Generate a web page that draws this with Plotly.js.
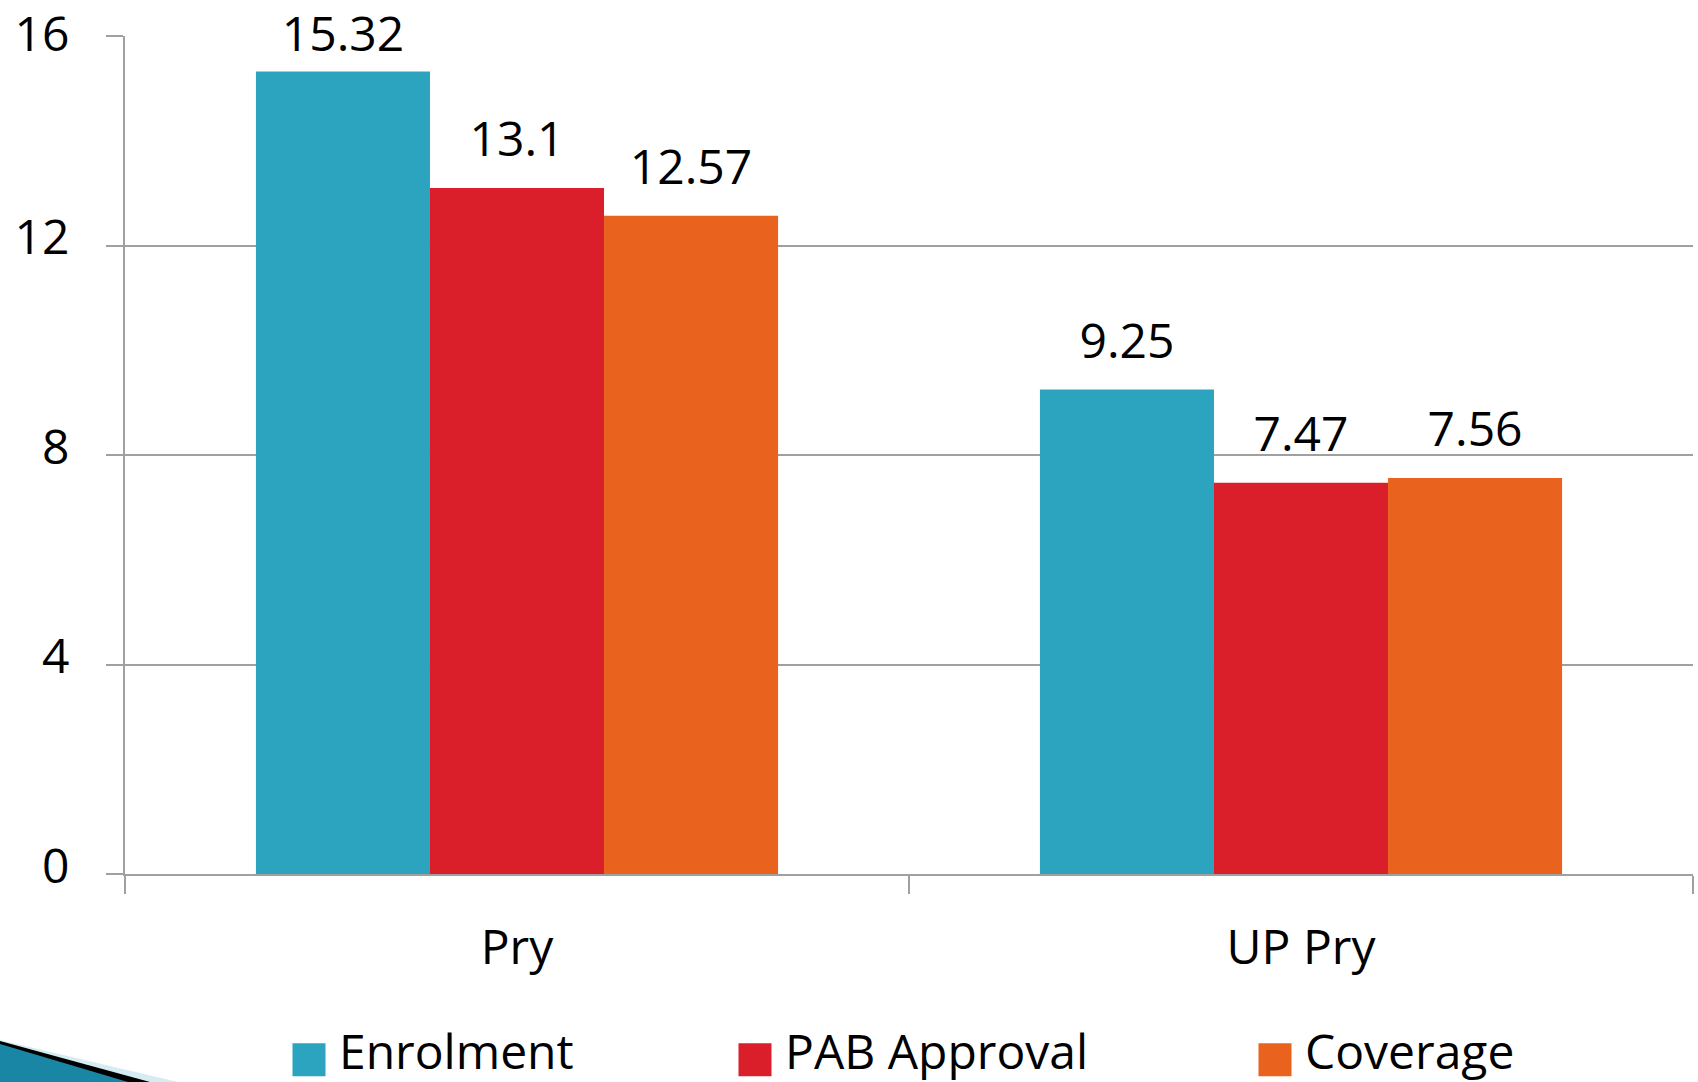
<!DOCTYPE html>
<html>
<head>
<meta charset="utf-8">
<script src="https://cdn.plot.ly/plotly-3.0.1.min.js"></script>
<style>
  html, body { margin: 0; padding: 0; background: #ffffff; }
  #chart { width: 1698px; height: 1082px; }
</style>
</head>
<body>
<div id="chart"></div>
<script>
// ---- data ----
const categories = ["Pry", "UP Pry"];
const seriesNames = ["Enrolment", "PAB Approval", "Coverage"];
const enrolment = [15.32, 9.25];
const pabApproval = [13.1, 7.47];
const coverage = [12.57, 7.56];
const yTickVals = [0, 4, 8, 12, 16];

// ---- styling ----
const colors = ["#2CA3BF", "#DA1F2B", "#E9631F"];
const FONT = "Open Sans, Liberation Sans, DejaVu Sans, sans-serif";
const FS = 48;
const W = 1698, H = 1082;
const M = { l: 125, r: 5, t: 36, b: 208 };
const legendTextStarts = [340, 786, 1306]; // px where each legend label begins
const LABEL_LIFT = 15;    // extra gap between bar top and its value label
const LABEL_MIN_TOP = 17; // value labels keep their cap-top below this (px)
const YLABEL_RAISE = 8;   // y tick labels sit a little above their gridlines

const seriesValues = [enrolment, pabApproval, coverage];
const legendIds = ["legend", "legend2", "legend3"];

const traces = seriesValues.map((vals, i) => ({
  type: "bar",
  name: seriesNames[i],
  x: categories,
  y: vals,
  marker: { color: colors[i], line: { width: 0 } },
  text: vals.map(v => String(v)),
  textposition: "outside",
  textfont: { family: FONT, size: FS, color: "#000000" },
  constraintext: "none",
  cliponaxis: false,
  hoverinfo: "skip",
  legend: legendIds[i]
}));

// px -> paper helpers for decorative corner swoosh
const pw = W - M.l - M.r, ph = H - M.t - M.b;
const PX = px => (px - M.l) / pw;
const PY = py => (H - M.b - py) / ph;
function pathOf(pts) {
  return "M" + pts.map(p => PX(p[0]).toFixed(5) + "," + PY(p[1]).toFixed(5)).join(" L") + " Z";
}

const legendBase = {
  orientation: "h",
  xref: "container", yref: "container",
  xanchor: "left", yanchor: "middle",
  y: 1 - 1051 / H,
  font: { family: FONT, size: FS, color: "#000000" },
  bgcolor: "rgba(0,0,0,0)",
  borderwidth: 0,
  itemclick: false, itemdoubleclick: false
};
const layout = {
  width: W, height: H,
  margin: M,
  paper_bgcolor: "#ffffff",
  plot_bgcolor: "#ffffff",
  barmode: "group",
  bargap: 0.334,
  bargroupgap: 0,
  showlegend: true,
  font: { family: FONT, size: FS, color: "#000000" },
  xaxis: {
    type: "category",
    tickson: "boundaries",
    ticks: "outside",
    ticklen: 18,
    tickwidth: 2,
    tickcolor: "#a0a0a0",
    showline: true,
    linecolor: "#a0a0a0",
    linewidth: 2,
    showgrid: false,
    zeroline: false,
    tickfont: { family: FONT, size: FS, color: "#000000" },
    ticklabelstandoff: 30,
    fixedrange: true
  },
  yaxis: {
    range: [0, 16],
    tickvals: yTickVals,
    ticktext: yTickVals.map(String),
    ticks: "outside",
    ticklen: 17,
    tickwidth: 2,
    tickcolor: "#a0a0a0",
    showline: true,
    linecolor: "#a0a0a0",
    linewidth: 2,
    showgrid: true,
    gridcolor: "#a0a0a0",
    gridwidth: 2,
    zeroline: false,
    tickfont: { family: FONT, size: FS, color: "#000000" },
    ticklabelstandoff: 27,
    fixedrange: true
  },
  legend: Object.assign({}, legendBase, { x: (legendTextStarts[0] - 41) / W }),
  legend2: Object.assign({}, legendBase, { x: (legendTextStarts[1] - 41) / W }),
  legend3: Object.assign({}, legendBase, { x: (legendTextStarts[2] - 41) / W }),
  shapes: [
    { type: "path", xref: "paper", yref: "paper", layer: "above", line: { width: 0 },
      fillcolor: "#d6ecf3", path: pathOf([[0, 1040], [178, 1082], [0, 1082]]) },
    { type: "path", xref: "paper", yref: "paper", layer: "above", line: { width: 0 },
      fillcolor: "#000000", path: pathOf([[0, 1041], [150, 1082], [0, 1082]]) },
    { type: "path", xref: "paper", yref: "paper", layer: "above", line: { width: 0 },
      fillcolor: "#1a86a6", path: pathOf([[0, 1044], [128, 1082], [0, 1082]]) }
  ]
};

function styleLegendSwatches(gd) {
  gd.querySelectorAll(".legendpoints").forEach(lp => {
    // climb to the nearest ancestor that holds this item's label text
    let item = lp.parentNode;
    while (item && item !== gd && !item.querySelector("text")) item = item.parentNode;
    if (!item || item === gd) return;
    const txt = item.querySelector("text");
    if (!txt) return;
    let anc = item;
    while (anc && anc !== gd) {
      if (anc.removeAttribute) anc.removeAttribute("clip-path");
      anc = anc.parentNode;
    }
    lp.querySelectorAll("path").forEach(path => {
      if (path.hasAttribute("data-sized")) return;
      path.setAttribute("data-sized", "1");
      path.removeAttribute("transform");
      const tb = txt.getBoundingClientRect();
      const pb = path.getBoundingClientRect();
      const lb = path.getBBox();
      const cxl = lb.x + lb.width / 2, cyl = lb.y + lb.height / 2;
      const pcx = pb.left + pb.width / 2, pcy = pb.top + pb.height / 2;
      const baseline = tb.top + 1.069 * FS;
      const targetCx = tb.left - 30;
      const targetCy = baseline - 10;
      const s = 2.75;
      path.setAttribute("transform",
        `translate(${cxl + targetCx - pcx},${cyl + targetCy - pcy}) scale(${s}) translate(${-cxl},${-cyl})`);
    });
  });
}

function shiftOnce(el, dy) {
  if (el.hasAttribute("data-base-transform")) return;
  const tr = el.getAttribute("transform") || "";
  el.setAttribute("data-base-transform", tr);
  el.setAttribute("transform", `translate(0,${dy}) ` + tr);
}

function finish(gd) {
  styleLegendSwatches(gd);
  gd.querySelectorAll("text.bartext").forEach(t => {
    if (t.hasAttribute("data-base-transform")) return;
    const r = t.getBoundingClientRect();
    const capTop = r.top + (1.069 - 0.714) * FS;
    const lift = Math.max(0, Math.min(LABEL_LIFT, capTop - LABEL_MIN_TOP));
    shiftOnce(t, -lift);
  });
  gd.querySelectorAll(".ytick text").forEach(t => {
    if (t.hasAttribute("data-base-transform")) return;
    const r = t.getBoundingClientRect();
    const raise = Math.max(0, Math.min(YLABEL_RAISE, r.top));
    shiftOnce(t, -raise);
  });
}

Plotly.newPlot("chart", traces, layout, { displayModeBar: false, staticPlot: true }).then(gd => {
  finish(gd);
});
</script>
</body>
</html>
